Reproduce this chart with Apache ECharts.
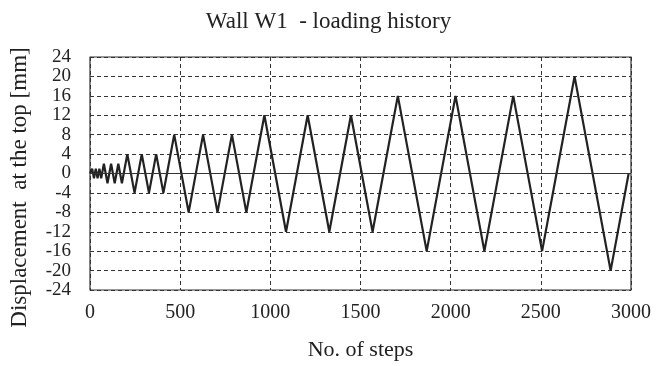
<!DOCTYPE html>
<html>
<head>
<meta charset="utf-8">
<script src="https://cdn.jsdelivr.net/npm/echarts@6/dist/echarts.min.js"></script>
<style>
  html, body { margin: 0; padding: 0; background: #fff; }
  #chart { width: 657px; height: 366px; }
</style>
</head>
<body>
<div id="chart"></div>
<script>
  // turning points of the loading history
  var steps = [0, 7, 12, 22, 32, 42, 52, 62, 67,
    77, 97, 117, 137, 157, 177, 187,
    207, 247, 287, 327, 367, 407, 427,
    467, 547, 627, 707, 787, 867, 907,
    967, 1087, 1207, 1327, 1447, 1567, 1627,
    1707, 1867, 2027, 2187, 2347, 2507, 2587,
    2687, 2887, 2987];
  var disp = [0, 0, 1, -1, 1, -1, 1, -1, 0,
    2, -2, 2, -2, 2, -2, 0,
    4, -4, 4, -4, 4, -4, 0,
    8, -8, 8, -8, 8, -8, 0,
    12, -12, 12, -12, 12, -12, 0,
    16, -16, 16, -16, 16, -16, 0,
    20, -20, 0];
  var yTicks = [-24, -20, -16, -12, -8, -4, 0, 4, 8, 12, 16, 20, 24];

  var points = steps.map(function (s, i) { return [s, disp[i]]; });
  var font = 'Liberation Serif';

  var option = {
    animation: false,
    title: {
      text: 'Wall W1  - loading history',
      left: 'center',
      top: 5,
      textStyle: { fontFamily: font, fontSize: 23, fontWeight: 'normal', color: '#222' }
    },
    grid: {
      left: 89, right: 26, top: 57, bottom: 71,
      show: true,
      borderColor: '#333',
      borderWidth: 1.2
    },
    xAxis: {
      type: 'value',
      min: 0, max: 3000, interval: 500,
      name: 'No. of steps',
      nameLocation: 'middle',
      nameGap: 49,
      nameTextStyle: { fontFamily: font, fontSize: 22, color: '#222' },
      axisLine: { show: false, onZero: false },
      axisTick: { show: false },
      axisLabel: {
        fontFamily: font, fontSize: 20, color: '#222', margin: 13,
        showMinLabel: true, showMaxLabel: true, hideOverlap: false,
        formatter: function (v) { return String(v); }
      },
      splitLine: { show: true, lineStyle: { type: [4, 3], color: '#333', width: 1 } }
    },
    yAxis: {
      type: 'value',
      min: yTicks[0], max: yTicks[yTicks.length - 1], interval: 4,
      name: 'Displacement  at the top [mm]',
      nameLocation: 'middle',
      nameRotate: 90,
      nameGap: 59,
      nameTextStyle: { fontFamily: font, fontSize: 23, color: '#222', padding: [0, 28, 0, 0] },
      axisLine: { show: false },
      axisTick: { show: false },
      axisLabel: {
        fontFamily: font, fontSize: 19, color: '#222', margin: 19,
        showMinLabel: true, showMaxLabel: true, hideOverlap: false
      },
      splitLine: { show: true, lineStyle: { type: [4, 3], color: '#333', width: 1 } }
    },
    series: [{
      type: 'line',
      data: points,
      symbol: 'none',
      lineStyle: { color: '#222', width: 2.2 },
      markLine: {
        silent: true,
        symbol: 'none',
        label: { show: false },
        lineStyle: { color: '#333', type: 'solid', width: 1 },
        data: [{ yAxis: 0 }]
      }
    }]
  };

  var myChart = echarts.init(document.getElementById('chart'));
  myChart.setOption(option);
</script>
</body>
</html>
